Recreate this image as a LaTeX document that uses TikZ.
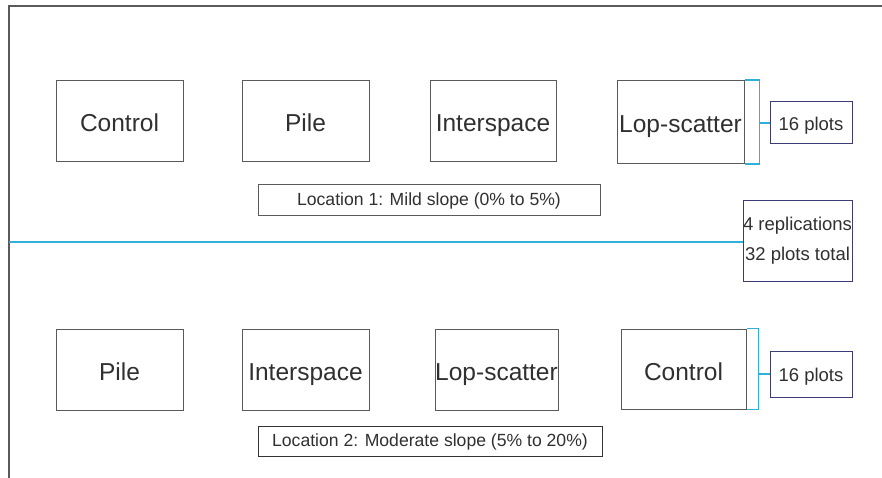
\documentclass[tikz,border=0pt]{standalone}
\usepackage{fontspec}
\setmainfont{Liberation Sans}
\definecolor{txt}{HTML}{303030}
\definecolor{boxline}{HTML}{5A5A5A}
\definecolor{blueline}{HTML}{3C3C78}
\definecolor{cyanline}{HTML}{2FB0DA}
\begin{document}
\begin{tikzpicture}[x=1pt,y=-1pt,
  treat/.style={draw=boxline,line width=1pt,rectangle,inner sep=0pt,
    minimum width=127pt,minimum height=81pt,text=txt,
    text height=22pt,text depth=0pt,
    font=\fontsize{24.5}{28}\selectfont},
  count/.style={draw=blueline,line width=1pt,rectangle,inner sep=0pt,
    minimum width=82pt,text=txt,
    font=\fontsize{18.5}{22}\selectfont},
  onecount/.style={count,text height=15pt,text depth=0pt},
  locbox/.style={draw=boxline,line width=1pt,rectangle,inner sep=0pt,
    minimum height=31pt,text=txt,text height=13pt,text depth=3pt,
    font=\fontsize{17.6}{21}\selectfont},
  bracket/.style={draw=cyanline,line width=1.3pt},
  frameline/.style={draw=boxline,line width=1.2pt}]
\useasboundingbox (0,0) rectangle (882,478);
% frame
\draw[frameline] (9,478) -- (9,6) -- (882,6);
% top row
\node[treat] (c1) at (119.5,121) {Control};
\node[treat] (p1) at (305.5,121) {Pile};
\node[treat,minimum width=126pt] (i1) at (493,121) {Interspace};
\node[treat,minimum height=83pt] (l1) at (680.5,122) {Lop-scatter};
\node[onecount,minimum height=42pt] (n1) at (811,123) {16 plots};
\node[locbox,minimum width=342pt] (loc1) at (429,200) {Location 1: Mild slope (0\% to 5\%)};
% replication box and divider
\node[count,minimum width=109pt,minimum height=80pt,align=center,
  font=\fontsize{18.5}{30}\selectfont] (rep) at (797.5,241) {4 replications\\32 plots total};
\coordinate (lft) at (9,242);
\draw[bracket] (lft) -- (lft -| rep.west);
% bottom row
\node[treat] (p2) at (119.5,369.5) {Pile};
\node[treat] (i2) at (305.5,369.5) {Interspace};
\node[treat,minimum width=123pt] (l2) at (496.5,369.5) {Lop-scatter};
\node[treat,minimum width=125pt,minimum height=80pt] (c2) at (683.5,369) {Control};
\node[onecount,minimum height=46pt] (n2) at (811,374) {16 plots};
\node[locbox,minimum width=344pt,minimum height=30pt,draw=black!80] (loc2) at (430,441) {Location 2: Moderate slope (5\% to 20\%)};
% brackets
\draw[bracket] (l1.north east) -- ++(15,0) coordinate (b1) |- (l1.south east);
\draw[bracket] (n1.west) -- (n1.west -| b1);
\draw[bracket] (c2.north east) -- ++(12,0) coordinate (b2) |- (c2.south east);
\draw[bracket] (n2.west) -- (n2.west -| b2);
\end{tikzpicture}
\end{document}
